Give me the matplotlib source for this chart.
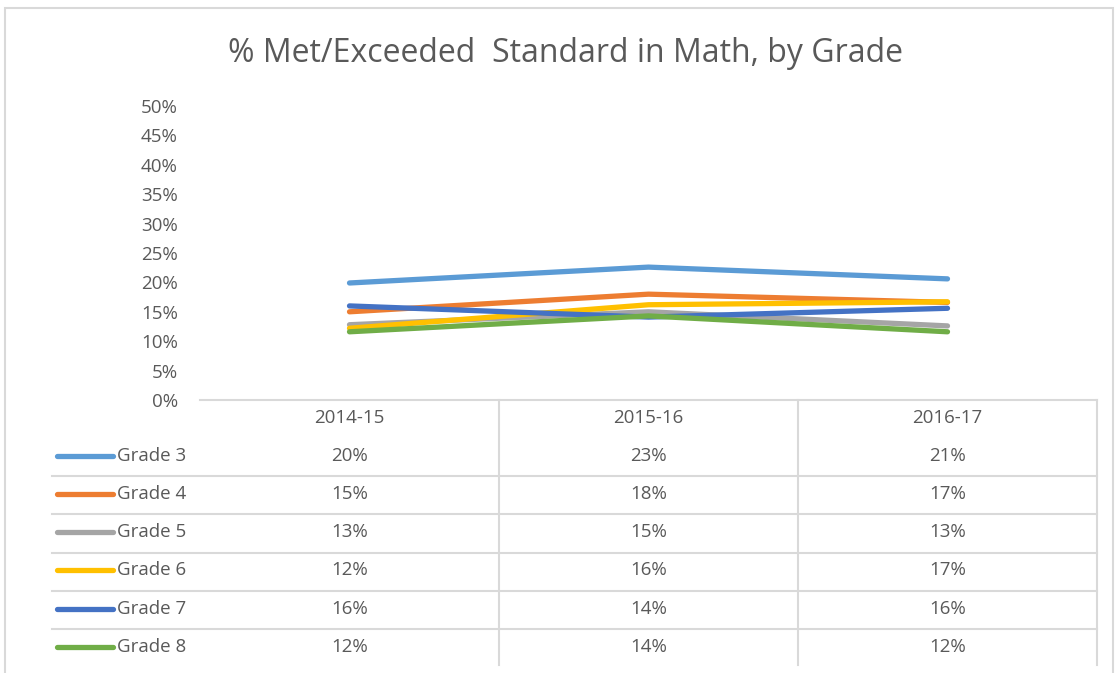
import matplotlib.pyplot as plt
from matplotlib.patches import Rectangle

years = ["2014-15", "2015-16", "2016-17"]
grades = ["Grade 3", "Grade 4", "Grade 5", "Grade 6", "Grade 7", "Grade 8"]
grade3 = [0.199, 0.226, 0.206]
grade4 = [0.150, 0.180, 0.166]
grade5 = [0.128, 0.150, 0.126]
grade6 = [0.122, 0.162, 0.167]
grade7 = [0.160, 0.141, 0.156]
grade8 = [0.116, 0.143, 0.116]
yticks = [0, 0.05, 0.10, 0.15, 0.20, 0.25, 0.30, 0.35, 0.40, 0.45, 0.50]

serie = [grade3, grade4, grade5, grade6, grade7, grade8]
renkler = ["#5B9BD5", "#ED7D31", "#A5A5A5", "#FFC000", "#4472C4", "#70AD47"]
gri = "#D9D9D9"
yazi = "#595959"
fs = 13.5
plt.rcParams['font.family'] = ['Open Sans', 'DejaVu Sans']

W, H = 1118, 673
fig = plt.figure(figsize=(W / 100, H / 100), dpi=100)

# dis cerceve
fig.patches.append(Rectangle((5 / W, -0.1), (1113 - 5) / W, 1.1 - 8 / H,
                             transform=fig.transFigure, fill=False,
                             edgecolor=gri, linewidth=1.5))

fig.text(565 / W, 1 - 53 / H, "% Met/Exceeded  Standard in Math, by Grade",
         ha="center", va="center", fontsize=23, color=yazi)

# ana grafik
ax = fig.add_axes([200 / W, 1 - 400 / H, 897 / W, 294 / H])
x = list(range(len(years)))
for degerler, renk in zip(serie, renkler):
    ax.plot(x, degerler, color=renk, linewidth=3.8, solid_capstyle="round")
ax.set_xlim(-0.5, 2.5)
ax.set_ylim(0, 0.5)
ax.set_yticks(yticks)
ax.set_yticklabels([f"{int(round(t * 100))}%" for t in yticks])
ax.tick_params(axis="y", length=0, pad=16, labelsize=fs, labelcolor=yazi)
ax.set_xticks([])
for s in ["top", "right", "left"]:
    ax.spines[s].set_visible(False)
ax.spines["bottom"].set_color(gri)
ax.spines["bottom"].set_linewidth(1.5)

# veri tablosu
tb = fig.add_axes([200 / W, 1 - 667 / H, 897 / W, 267 / H])
tb.set_xlim(-0.5, 2.5)
tb.set_ylim(7, 0)
tb.axis("off")
for i, yil in enumerate(years):
    tb.text(i, 0.48, yil, ha="center", va="center", fontsize=fs, color=yazi)
for r in range(2, 7):
    tb.plot([-0.995, 2.5], [r, r], color=gri, linewidth=1.5, clip_on=False)
for xv in [0.5, 1.5, 2.5]:
    tb.plot([xv, xv], [0, 6.95], color=gri, linewidth=1.5, clip_on=False)
for r, (ad, degerler, renk) in enumerate(zip(grades, serie, renkler)):
    yr = r + 1.47
    tb.plot([-0.978, -0.791], [yr, yr], color=renk, linewidth=3.8,
            solid_capstyle="round", clip_on=False)
    tb.text(-0.778, yr, ad, ha="left", va="center", fontsize=fs, color=yazi,
            clip_on=False)
    for i, d in enumerate(degerler):
        tb.text(i, yr, f"{d:.0%}", ha="center", va="center", fontsize=fs,
                color=yazi)

fig.savefig("out.png", dpi=100)
